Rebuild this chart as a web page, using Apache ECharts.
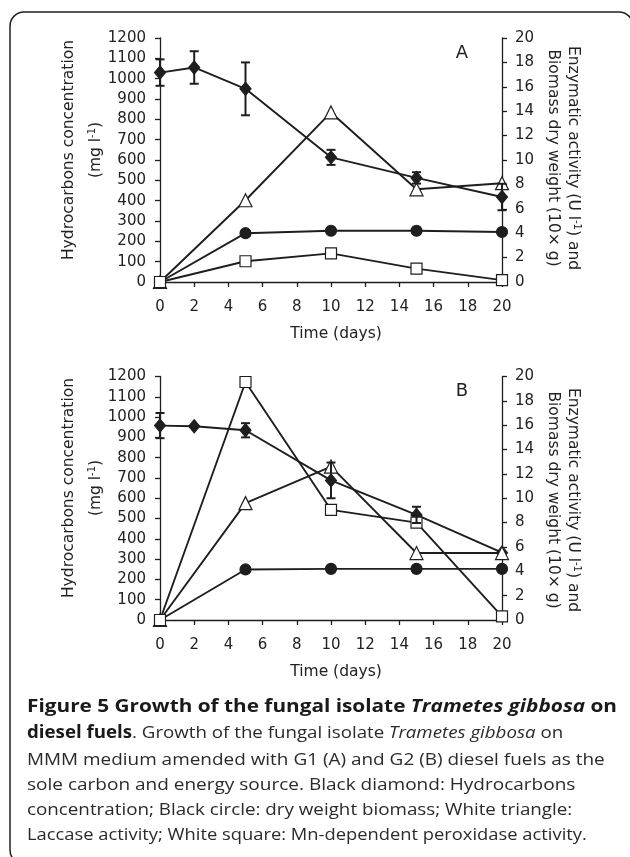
<!DOCTYPE html>
<html>
<head>
<meta charset="utf-8">
<script src="https://cdn.jsdelivr.net/npm/echarts@6/dist/echarts.min.js"></script>
<style>
html,body{margin:0;padding:0;background:#fff;}
#c{width:630px;height:857px;}
</style>
</head>
<body>
<div id="c"></div>
<script>
// ---- Data ----
var daysHC = [0, 2, 5, 10, 15, 20];
var days = [0, 5, 10, 15, 20];

// Panel A (G1)
var hcA = [1030, 1055, 950, 613, 512, 418];
var hcErrA = [65, 80, 130, 37, 28, 65];
var bioA = [0, 4.0, 4.2, 4.2, 4.1];
var lacA = [0, 6.7, 13.9, 7.6, 8.1];
var mnpA = [0, 1.7, 2.35, 1.1, 0.15];

// Panel B (G2)
var hcB = [958, 955, 935, 688, 518, 332];
var hcErrB = [62, 0, 35, 88, 40, 0];
var bioB = [0, 4.15, 4.2, 4.2, 4.2];
var lacB = [0, 9.6, 12.6, 5.5, 5.5];
var mnpB = [0, 19.55, 9.05, 8.0, 0.3];

var INK = '#1e1e1e';
var TXT = '#222';
var FONT = 'DejaVu Sans';

function pairs(xs, ys) { return xs.map(function (x, i) { return [x, ys[i]]; }); }
function errData(xs, ys, es) { return xs.map(function (x, i) { return [x, ys[i], es[i]]; }); }
function plain(v) { return String(v); }

var grids = [
  { left: 160, top: 38, width: 342, height: 244 },
  { left: 160, top: 376.5, width: 342, height: 243.5 }
];

function xAxisFor(gi) {
  return {
    gridIndex: gi, type: 'value', min: 0, max: 20, interval: 2,
    axisLine: { lineStyle: { color: INK, width: 1.3 } },
    axisTick: { inside: false, length: 5, lineStyle: { color: INK, width: 1.3 } },
    axisLabel: { margin: 18, color: TXT, fontFamily: FONT, fontSize: 15, formatter: plain },
    splitLine: { show: false }
  };
}
function yLeft(gi) {
  return {
    gridIndex: gi, type: 'value', min: 0, max: 1200, interval: 100, position: 'left',
    axisLine: { show: true, lineStyle: { color: INK, width: 1.3 } },
    axisTick: { show: true, inside: false, length: 5, lineStyle: { color: INK, width: 1.3 } },
    axisLabel: { margin: 14, color: TXT, fontFamily: FONT, fontSize: 15, formatter: plain },
    splitLine: { show: false }
  };
}
function yRight(gi) {
  return {
    gridIndex: gi, type: 'value', min: 0, max: 20, interval: 2, position: 'right',
    axisLine: { show: true, lineStyle: { color: INK, width: 1.3 } },
    axisTick: { show: true, inside: false, length: 5, lineStyle: { color: INK, width: 1.3 } },
    axisLabel: { margin: 13, color: TXT, fontFamily: FONT, fontSize: 15, formatter: plain },
    splitLine: { show: false }
  };
}

function lineSeries(name, xi, yi, data, symbol, size, fill) {
  return {
    name: name, type: 'line', xAxisIndex: xi, yAxisIndex: yi, data: data,
    symbol: symbol, symbolSize: size, showAllSymbol: true,
    lineStyle: { color: INK, width: 1.9 },
    itemStyle: { color: fill, borderColor: INK, borderWidth: 1.2 },
    z: 3
  };
}
function errSeries(xi, yi, data) {
  return {
    type: 'custom', xAxisIndex: xi, yAxisIndex: yi, data: data, z: 4,
    renderItem: function (params, api) {
      var x = api.value(0), y = api.value(1), e = api.value(2);
      if (!e) return null;
      var top = api.coord([x, y + e]);
      var bot = api.coord([x, y - e]);
      var hw = 4.5;
      var st = { stroke: INK, lineWidth: 2 };
      return {
        type: 'group',
        children: [
          { type: 'line', shape: { x1: top[0], y1: top[1], x2: bot[0], y2: bot[1] }, style: st },
          { type: 'line', shape: { x1: top[0] - hw, y1: top[1], x2: top[0] + hw, y2: top[1] }, style: st },
          { type: 'line', shape: { x1: bot[0] - hw, y1: bot[1], x2: bot[0] + hw, y2: bot[1] }, style: st }
        ]
      };
    }
  };
}

var series = [];
// Panel A: axes x0, yLeft 0, yRight 1
series.push(lineSeries('Hydrocarbons A', 0, 0, pairs(daysHC, hcA), 'diamond', [11, 13], INK));
series.push(errSeries(0, 0, errData(daysHC, hcA, hcErrA)));
series.push(lineSeries('Biomass A', 0, 1, pairs(days, bioA), 'circle', 11, INK));
series.push(lineSeries('Laccase A', 0, 1, pairs(days, lacA), 'triangle', 13, '#fff'));
series.push(lineSeries('MnP A', 0, 1, pairs(days, mnpA), 'rect', 11, '#fff'));
// Panel B: axes x1, yLeft 2, yRight 3
series.push(lineSeries('Hydrocarbons B', 1, 2, pairs(daysHC, hcB), 'diamond', [11, 13], INK));
series.push(errSeries(1, 2, errData(daysHC, hcB, hcErrB)));
series.push(lineSeries('Biomass B', 1, 3, pairs(days, bioB), 'circle', 11, INK));
series.push(lineSeries('Laccase B', 1, 3, pairs(days, lacB), 'triangle', 13, '#fff'));
series.push(lineSeries('MnP B', 1, 3, pairs(days, mnpB), 'rect', 11, '#fff'));

function vText(text, x, y, rot) {
  return {
    type: 'text', x: x, y: y, rotation: rot, silent: true,
    style: {
      text: text, align: 'center', verticalAlign: 'middle',
      font: '15.5px "' + FONT + '"', fill: TXT,
      rich: {
        n: { fontFamily: FONT, fontSize: 15.5, fill: TXT, lineHeight: 18 },
        s: { fontFamily: FONT, fontSize: 10, fill: TXT, verticalAlign: 'top', lineHeight: 18 }
      }
    }
  };
}

var capRich = {
  b: { fontFamily: 'Open Sans', fontWeight: 'bold', fontSize: 17, fill: '#1a1a1a' },
  bi: { fontFamily: 'Open Sans', fontWeight: 'bold', fontStyle: 'italic', fontSize: 17, fill: '#1a1a1a' },
  r: { fontFamily: 'Open Sans', fontSize: 17, fill: '#2a2a2a' },
  i: { fontFamily: 'Open Sans', fontStyle: 'italic', fontSize: 17, fill: '#2a2a2a' }
};
var captionLines = [
  '{b|Figure 5 Growth of the fungal isolate }{bi|Trametes gibbosa}{b| on}',
  '{b|diesel fuels}{r|. Growth of the fungal isolate }{i|Trametes gibbosa}{r| on}',
  '{r|MMM medium amended with G1 (A) and G2 (B) diesel fuels as the}',
  '{r|sole carbon and energy source. Black diamond: Hydrocarbons}',
  '{r|concentration; Black circle: dry weight biomass; White triangle:}',
  '{r|Laccase activity; White square: Mn-dependent peroxidase activity.}'
];
var captionY = [707, 733, 760, 785, 810, 835];
var captionScale = [1.222, 1.10, 1.114, 1.118, 1.105, 1.079];

var graphics = [
  { type: 'rect', shape: { x: 10, y: 12, width: 623, height: 852, r: 14 },
    style: { fill: 'none', stroke: '#222', lineWidth: 1.5 }, silent: true, z: -1 },
  vText('{n|Hydrocarbons concentration}', 69, 150, Math.PI / 2),
  vText('{n|(mg l}{s|-1}{n|)}', 96, 150, Math.PI / 2),
  vText('{n|Enzymatic activity (U l}{s|-1}{n|) and}', 573, 158, -Math.PI / 2),
  vText('{n|Biomass dry weight (10× g)}', 553, 158, -Math.PI / 2),
  vText('{n|Hydrocarbons concentration}', 69, 488, Math.PI / 2),
  vText('{n|(mg l}{s|-1}{n|)}', 96, 488, Math.PI / 2),
  vText('{n|Enzymatic activity (U l}{s|-1}{n|) and}', 573, 500, -Math.PI / 2),
  vText('{n|Biomass dry weight (10× g)}', 553, 500, -Math.PI / 2),
  { type: 'text', x: 336, y: 334, silent: true,
    style: { text: 'Time (days)', align: 'center', verticalAlign: 'middle', font: '15.5px "' + FONT + '"', fill: TXT } },
  { type: 'text', x: 336, y: 672, silent: true,
    style: { text: 'Time (days)', align: 'center', verticalAlign: 'middle', font: '15.5px "' + FONT + '"', fill: TXT } },
  { type: 'text', x: 462, y: 53, silent: true,
    style: { text: 'A', align: 'center', verticalAlign: 'middle', font: '18px "' + FONT + '"', fill: TXT } },
  { type: 'text', x: 462, y: 391, silent: true,
    style: { text: 'B', align: 'center', verticalAlign: 'middle', font: '18px "' + FONT + '"', fill: TXT } }
];
captionLines.forEach(function (t, i) {
  graphics.push({
    type: 'text', x: 27, y: captionY[i], scaleX: captionScale[i], silent: true,
    style: { text: t, x: 0, y: 0, align: 'left', verticalAlign: 'middle', rich: capRich, font: '17px "Open Sans"' }
  });
});

var chart = echarts.init(document.getElementById('c'), null, { renderer: 'canvas' });
chart.setOption({
  animation: false,
  backgroundColor: '#fff',
  grid: grids,
  xAxis: [xAxisFor(0), xAxisFor(1)],
  yAxis: [yLeft(0), yRight(0), yLeft(1), yRight(1)],
  series: series,
  graphic: graphics
});
</script>
</body>
</html>
